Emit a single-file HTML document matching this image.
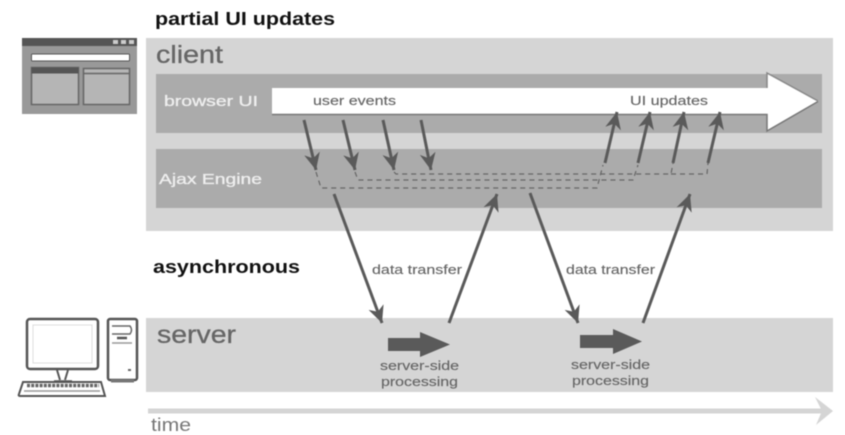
<!DOCTYPE html>
<html><head><meta charset="utf-8"><style>
html,body{margin:0;padding:0;background:#fff;width:845px;height:435px;overflow:hidden}
svg{display:block;filter:blur(.6px)}
text{font-family:"Liberation Sans",sans-serif}
</style></head><body>
<svg width="845" height="435" viewBox="0 0 845 435" xmlns="http://www.w3.org/2000/svg">
<defs>
<marker id="a" markerUnits="userSpaceOnUse" markerWidth="20" markerHeight="20" refX="17" refY="9" orient="auto"><path d="M0 1 L17 9 L0 17 L5 9Z" fill="#5a5a5a"/></marker>
</defs>
<rect x="146" y="38" width="687" height="193" fill="#d5d5d5"/>
<rect x="156" y="74" width="666" height="59" fill="#ababab"/>
<rect x="156" y="149" width="666" height="59" fill="#ababab"/>
<rect x="146" y="318" width="687" height="74" fill="#d5d5d5"/>

<path d="M272 88H767V73L818 101L767 131V114H272Z" fill="#fff"/>
<path d="M272 114.500H767V131L818 101.500" fill="none" stroke="#777" stroke-width="1.500"/>
<path d="M767 88V73L818 101" fill="none" stroke="#888" stroke-width="1.500"/>

<g lengthAdjust="spacingAndGlyphs">
<text x="155" y="25" font-size="18" font-weight="bold" fill="#111" textLength="180" lengthAdjust="spacingAndGlyphs">partial UI updates</text>
<text x="156" y="63" font-size="25" fill="#666" stroke="#666" stroke-width=".3" textLength="67" lengthAdjust="spacingAndGlyphs">client</text>
<text x="164" y="106" font-size="15" fill="#eee" stroke="#eee" stroke-width=".35" textLength="94" lengthAdjust="spacingAndGlyphs">browser UI</text>
<text x="159" y="184" font-size="15" fill="#eee" stroke="#eee" stroke-width=".35" textLength="103" lengthAdjust="spacingAndGlyphs">Ajax Engine</text>
<text x="313" y="105" font-size="13" fill="#666" stroke="#666" stroke-width=".15" textLength="83" lengthAdjust="spacingAndGlyphs">user events</text>
<text x="630" y="105" font-size="13" fill="#666" stroke="#666" stroke-width=".15" textLength="78" lengthAdjust="spacingAndGlyphs">UI updates</text>
<text x="153" y="273" font-size="18" font-weight="bold" fill="#111" textLength="147" lengthAdjust="spacingAndGlyphs">asynchronous</text>
<text x="372" y="274" font-size="13" fill="#666" stroke="#666" stroke-width=".15" textLength="90" lengthAdjust="spacingAndGlyphs">data transfer</text>
<text x="566" y="274" font-size="13" fill="#666" stroke="#666" stroke-width=".15" textLength="89" lengthAdjust="spacingAndGlyphs">data transfer</text>
<text x="157" y="343" font-size="25" fill="#666" stroke="#666" stroke-width=".3" textLength="79" lengthAdjust="spacingAndGlyphs">server</text>
<text x="380" y="370" font-size="13" fill="#666" stroke="#666" stroke-width=".15" textLength="79" lengthAdjust="spacingAndGlyphs">server-side</text>
<text x="381" y="386" font-size="13" fill="#666" stroke="#666" stroke-width=".15" textLength="77" lengthAdjust="spacingAndGlyphs">processing</text>
<text x="571" y="369" font-size="13" fill="#666" stroke="#666" stroke-width=".15" textLength="79" lengthAdjust="spacingAndGlyphs">server-side</text>
<text x="572" y="385" font-size="13" fill="#666" stroke="#666" stroke-width=".15" textLength="77" lengthAdjust="spacingAndGlyphs">processing</text>
<text x="151" y="431" font-size="18" fill="#777" textLength="40" lengthAdjust="spacingAndGlyphs">time</text>
</g>

<g stroke="#5a5a5a" stroke-width="3" fill="none">
<path d="M304 120L316 170" marker-end="url(#a)"/>
<path d="M343 120L355 170" marker-end="url(#a)"/>
<path d="M383 120L394 170" marker-end="url(#a)"/>
<path d="M421 120L431 170" marker-end="url(#a)"/>
<path d="M605 163L617 112" marker-end="url(#a)"/>
<path d="M638 163L650 112" marker-end="url(#a)"/>
<path d="M673 163L684 112" marker-end="url(#a)"/>
<path d="M708 163L720 112" marker-end="url(#a)"/>
<path d="M334 194L382 323" marker-end="url(#a)"/>
<path d="M449 323L497 194" marker-end="url(#a)"/>
<path d="M530 193L578 323" marker-end="url(#a)"/>
<path d="M643 323L690 194" marker-end="url(#a)"/>
</g>

<g fill="none" stroke="#666" stroke-width="1.200" stroke-dasharray="5 4">
<path d="M316 172L321 188H597L603 165"/>
<path d="M355 172L358 180H633L638 165"/>
<path d="M394 172L396 174H671L673 163"/>
<path d="M671 174H707L708 163"/>
</g>

<path d="M388 338H420V332L450 344.500L420 357V351H388Z" fill="#5a5a5a"/>
<path d="M580 335H613V329L642 341.500L613 354V348H580Z" fill="#5a5a5a"/>

<path d="M148 411H830" stroke="#d5d5d5" stroke-width="5"/>
<path d="M815 397L833 411L816 425L822 411Z" fill="#d5d5d5"/>

<!-- browser icon -->
<rect x="22" y="38" width="115" height="76" fill="#999"/>
<rect x="22" y="38" width="115" height="8" fill="#555"/>
<rect x="113" y="40" width="5" height="4" fill="#ccc"/><rect x="121" y="40" width="5" height="4" fill="#ccc"/><rect x="129" y="40" width="5" height="4" fill="#ccc"/>
<rect x="31.500" y="54" width="98" height="7" rx="1" fill="#fff" stroke="#555"/>
<rect x="31.500" y="67.500" width="47" height="37" fill="#b5b5b5" stroke="#666" stroke-width="1.500"/>
<rect x="31.500" y="67.500" width="47" height="6" fill="#555"/>
<rect x="83.500" y="68.500" width="46" height="36" fill="#b5b5b5" stroke="#666" stroke-width="1.500"/>
<path d="M83 73.500H130" stroke="#666" stroke-width="1.500"/>

<!-- computer icon -->
<rect x="27" y="319" width="71" height="50" rx="3" fill="#fff" stroke="#555" stroke-width="2.500"/>
<rect x="33" y="325" width="59" height="38" fill="#fff" stroke="#ddd"/>
<path d="M57 370L60 380M68 370L65 380" stroke="#555" stroke-width="2"/>
<path d="M54 381H72" stroke="#555" stroke-width="1.500"/>
<path d="M23 382H101L105 396Q105 396 103 396H20Q18 396 19 394Z" fill="#fff" stroke="#555" stroke-width="2"/>
<path d="M27 385.500H99" stroke="#666" stroke-width="3.500" stroke-dasharray="3 1.200"/>
<path d="M24 391H100" stroke="#999" stroke-width="1.500"/>
<rect x="108" y="319" width="29" height="61" rx="2" fill="#fff" stroke="#555" stroke-width="2.500"/>
<path d="M112 326H130Q133 330 130 334H112" fill="none" stroke="#666" stroke-width="1.500"/>
<path d="M117 338H127" stroke="#555" stroke-width="2.500"/>
<path d="M112 343H132" stroke="#999" stroke-width="1.500"/>
<rect x="128" y="369" width="3" height="2" fill="#666"/>
<path d="M111 381H134" stroke="#777" stroke-width="3"/>
</svg>
</body></html>
